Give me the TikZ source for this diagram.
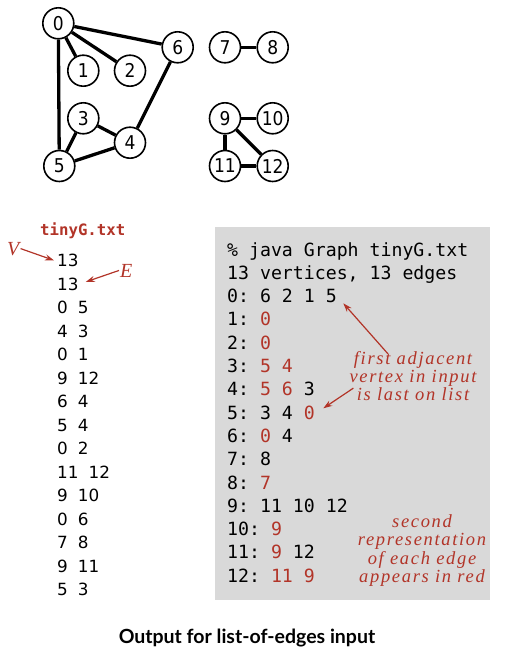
\documentclass[tikz,border=0pt]{standalone}
\usepackage{fontspec}
\setmainfont{DejaVu Sans}
\setmonofont{DejaVu Sans Mono}
\newfontfamily\vxfont{DejaVu Sans Condensed}
\newfontfamily\notefont[LetterSpace=9]{Liberation Serif}
\newfontfamily\capfont{Lato}
\usetikzlibrary{arrows.meta}

\definecolor{edgered}{RGB}{178,52,40}
\definecolor{boxgray}{RGB}{217,217,217}
\newcommand{\rd}[1]{\textcolor{edgered}{#1}}
\newcommand{\gap}{\hspace{10pt}}

\tikzset{
	vertex/.style={circle,draw,line width=1.6pt,fill=white,minimum size=31pt,inner sep=0pt,font=\vxfont\fontsize{19}{19}\selectfont},
	edge/.style={line width=3.3pt},
	inline/.style={anchor=base west,inner sep=0pt,font=\fontsize{16.8}{16.8}\selectfont},
	outline/.style={anchor=base west,inner sep=0pt,font=\ttfamily\fontsize{18.2}{18.2}\selectfont},
	note/.style={align=center,text=edgered,inner sep=0pt,font=\notefont\itshape\fontsize{18.5}{18.3}\selectfont},
	pointer/.style={edgered,line width=1.2pt,-{Stealth[length=9pt,width=6pt]}}
}

\begin{document}
\begin{tikzpicture}[x=1pt,y=-1pt]
	\useasboundingbox (0,0) rectangle (504,663);
	%Graph
		%Vertices
		\node [vertex] (v0) at (58.3, 23.3) {0};
		\node [vertex] (v1) at (83.3, 70.7) {1};
		\node [vertex] (v2) at (130, 70.7) {2};
		\node [vertex] (v3) at (83.3, 118.3) {3};
		\node [vertex] (v4) at (130, 142.7) {4};
		\node [vertex] (v5) at (59.3, 166) {5};
		\node [vertex] (v6) at (177.7, 47.3) {6};
		\node [vertex] (v7) at (225, 47.3) {7};
		\node [vertex] (v8) at (272.7, 47.3) {8};
		\node [vertex] (v9) at (225, 118.3) {9};
		\node [vertex] (v10) at (272.7, 118.3) {10};
		\node [vertex] (v11) at (225, 166) {11};
		\node [vertex] (v12) at (272.7, 166) {12};
		%Edges
		\draw [edge] (v0) -- (v6);
		\draw [edge] (v0) -- (v1);
		\draw [edge] (v0) -- (v2);
		\draw [edge] (v0) -- (v5);
		\draw [edge] (v6) -- (v4);
		\draw [edge] (v3) -- (v4);
		\draw [edge] (v3) -- (v5);
		\draw [edge] (v5) -- (v4);
		\draw [edge] (v7) -- (v8);
		\draw [edge] (v9) -- (v10);
		\draw [edge] (v9) -- (v11);
		\draw [edge] (v9) -- (v12);
		\draw [edge] (v11) -- (v12);
	%Input file
		\node [anchor=base west,inner sep=0pt,text=edgered,font=\ttfamily\bfseries\fontsize{15.7}{15.7}\selectfont] (fname) at (40, 235) {tinyG.txt};
		\node [inline] (in0) at (57, 266.5) {13};
		\node [inline] (in1) at (57, 290) {13};
		\node [inline] (in2) at (57, 313.5) {0\gap5};
		\node [inline] (in3) at (57, 337) {4\gap3};
		\node [inline] (in4) at (57, 360.5) {0\gap1};
		\node [inline] (in5) at (57, 384) {9\gap12};
		\node [inline] (in6) at (57, 407.5) {6\gap4};
		\node [inline] (in7) at (57, 431) {5\gap4};
		\node [inline] (in8) at (57, 454.5) {0\gap2};
		\node [inline] (in9) at (57, 478) {11\gap12};
		\node [inline] (in10) at (57, 501.5) {9\gap10};
		\node [inline] (in11) at (57, 525) {0\gap6};
		\node [inline] (in12) at (57, 548.5) {7\gap8};
		\node [inline] (in13) at (57, 572) {9\gap11};
		\node [inline] (in14) at (57, 595.5) {5\gap3};
		%V and E labels
		\node [anchor=base west,inner sep=1pt,text=edgered,font=\notefont\itshape\fontsize{20}{20}\selectfont] (vlab) at (6, 255) {V};
		\node [anchor=base west,inner sep=1pt,text=edgered,font=\notefont\itshape\fontsize{20}{20}\selectfont] (elab) at (119, 277) {E};
		\draw [pointer] (vlab.east) -- ([xshift=-3pt]in0.west);
		\draw [pointer] (elab.west) -- ([xshift=7pt,yshift=2pt]in1.east);
	%Output box
		\fill [boxgray] (215, 227) rectangle (490, 600);
		\node [outline] (out0) at (227, 256) {\% java Graph tinyG.txt};
		\node [outline] (out1) at (227, 279.3) {13 vertices, 13 edges};
		\node [outline] (out2) at (227, 302.6) {0: 6 2 1 5};
		\node [outline] (out3) at (227, 325.9) {1: \rd{0}};
		\node [outline] (out4) at (227, 349.2) {2: \rd{0}};
		\node [outline] (out5) at (227, 372.5) {3: \rd{5 4}};
		\node [outline] (out6) at (227, 395.8) {4: \rd{5 6} 3};
		\node [outline] (out7) at (227, 419.1) {5: 3 4 \rd{0}};
		\node [outline] (out8) at (227, 442.4) {6: \rd{0} 4};
		\node [outline] (out9) at (227, 465.7) {7: 8};
		\node [outline] (out10) at (227, 489) {8: \rd{7}};
		\node [outline] (out11) at (227, 512.3) {9: 11 10 12};
		\node [outline] (out12) at (227, 535.6) {10: \rd{9}};
		\node [outline] (out13) at (227, 558.9) {11: \rd{9} 12};
		\node [outline] (out14) at (227, 582.2) {12: \rd{11 9}};
		%Notes
		\node [note] (firstnote) at (413, 376) {first adjacent\\vertex in input\\is last on list};
		\node [note] (secondnote) at (422, 550.5) {second\\representation\\of each edge\\appears in red};
		\coordinate (firsttip) at (343.3, 303.3);
		\coordinate (lasttip) at (323.3, 408.3);
		\draw [pointer] ([xshift=-25pt,yshift=-3pt]firstnote.north) -- (firsttip);
		\draw [pointer] ([shift={(4,-13)}]firstnote.south west) -- (lasttip);
	%Caption
		\node [font=\capfont\bfseries\fontsize{19.5}{19.5}\selectfont] (caption) at (247, 638) {Output for list-of-edges input};
\end{tikzpicture}
\end{document}
